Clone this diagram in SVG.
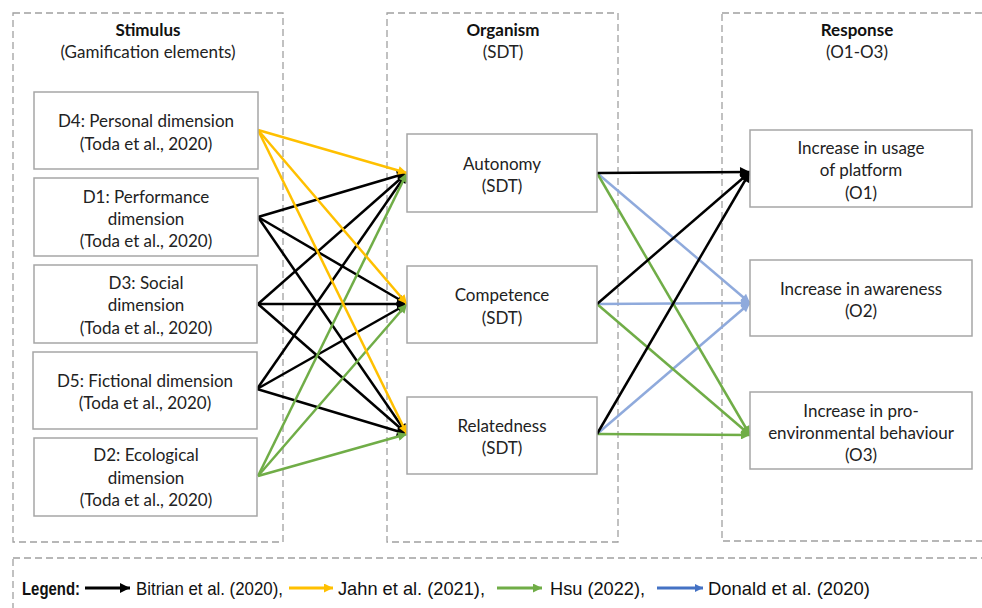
<svg xmlns="http://www.w3.org/2000/svg" width="982" height="608" viewBox="0 0 982 608">
  <style>
    .stage { fill: none; stroke: #a0a0a0; stroke-width: 1.3; stroke-dasharray: 7 4; }
    .box { fill: #ffffff; stroke: #a6a6a6; stroke-width: 1.5; }
    .t { font-family: "Lato", "Open Sans", sans-serif; font-size: 17px; fill: #222222; text-anchor: middle; dominant-baseline: central; }
    .hd { font-weight: bold; fill: #111111; }
    .lg { font-family: "Liberation Sans", Arial, sans-serif; font-size: 19px; fill: #111111; }
    .c { fill: none; stroke-width: 2.5; }
    .k { stroke: #000000; marker-end: url(#ak); }
    .y { stroke: #ffc000; marker-end: url(#ay); }
    .g { stroke: #70ad47; marker-end: url(#ag); }
    .b { stroke: #8faadc; marker-end: url(#ab); }
  </style>
  <defs>
    <marker id="ak" viewBox="0 0 10 10" refX="10" refY="5" markerWidth="12" markerHeight="10" markerUnits="userSpaceOnUse" orient="auto">
      <path d="M0,0 L10,5 L0,10 z" fill="#000000"/>
    </marker>
    <marker id="ay" viewBox="0 0 10 10" refX="10" refY="5" markerWidth="11" markerHeight="9" markerUnits="userSpaceOnUse" orient="auto">
      <path d="M0,0 L10,5 L0,10 z" fill="#ffc000"/>
    </marker>
    <marker id="ag" viewBox="0 0 10 10" refX="10" refY="5" markerWidth="11" markerHeight="9" markerUnits="userSpaceOnUse" orient="auto">
      <path d="M0,0 L10,5 L0,10 z" fill="#70ad47"/>
    </marker>
    <marker id="ab" viewBox="0 0 10 10" refX="10" refY="5" markerWidth="11" markerHeight="9" markerUnits="userSpaceOnUse" orient="auto">
      <path d="M0,0 L10,5 L0,10 z" fill="#8faadc"/>
    </marker>
    <marker id="lb" viewBox="0 0 10 10" refX="10" refY="5" markerWidth="9" markerHeight="8" markerUnits="userSpaceOnUse" orient="auto">
      <path d="M0,0 L10,5 L0,10 z" fill="#4472c4"/>
    </marker>
  </defs>

  <rect width="982" height="608" fill="#ffffff"/>

  <!-- stage frames -->
  <g id="stages">
    <rect class="stage" x="13" y="13" width="270" height="529"/>
    <rect class="stage" x="387" y="13" width="231" height="529"/>
    <rect class="stage" x="722" y="13" width="290" height="528"/>
    <text class="t hd" x="148" y="29">Stimulus</text>
    <text class="t" x="148" y="51">(Gamification elements)</text>
    <text class="t hd" x="503" y="29">Organism</text>
    <text class="t" x="503" y="51">(SDT)</text>
    <text class="t hd" x="857" y="29">Response</text>
    <text class="t" x="857" y="51">(O1-O3)</text>
  </g>

  <!-- connectors -->
  <g id="connectors">
    <!-- stimulus to organism -->
    <line class="c k" x1="258" y1="217" x2="407" y2="173"/>
    <line class="c k" x1="258" y1="217" x2="407" y2="304"/>
    <line class="c k" x1="258" y1="217" x2="407" y2="434"/>
    <line class="c k" x1="258" y1="304" x2="407" y2="173"/>
    <line class="c k" x1="258" y1="304" x2="407" y2="304"/>
    <line class="c k" x1="258" y1="304" x2="407" y2="434"/>
    <line class="c k" x1="257" y1="389" x2="407" y2="173"/>
    <line class="c k" x1="257" y1="389" x2="407" y2="304"/>
    <line class="c k" x1="257" y1="389" x2="407" y2="434"/>
    <line class="c g" x1="258" y1="476" x2="407" y2="173"/>
    <line class="c g" x1="258" y1="476" x2="407" y2="304"/>
    <line class="c g" x1="258" y1="476" x2="407" y2="434"/>
    <line class="c y" x1="258" y1="130" x2="407" y2="173"/>
    <line class="c y" x1="258" y1="130" x2="407" y2="304"/>
    <line class="c y" x1="258" y1="130" x2="407" y2="434"/>
    <!-- organism to response -->
    <line class="c b" x1="597" y1="173" x2="750" y2="303"/>
    <line class="c b" x1="597" y1="304" x2="750" y2="303"/>
    <line class="c b" x1="597" y1="434" x2="750" y2="303"/>
    <line class="c g" x1="597" y1="173" x2="750" y2="435"/>
    <line class="c g" x1="597" y1="304" x2="750" y2="435"/>
    <line class="c g" x1="597" y1="434" x2="750" y2="435"/>
    <line class="c k" x1="597" y1="173" x2="750" y2="172"/>
    <line class="c k" x1="597" y1="304" x2="750" y2="172"/>
    <line class="c k" x1="597" y1="434" x2="750" y2="172"/>
  </g>

  <!-- stimulus nodes -->
  <g id="d4">
    <rect class="box" x="34" y="92" width="224" height="77"/>
    <text class="t" x="146" y="120">D4: Personal dimension</text>
    <text class="t" x="146" y="143">(Toda et al., 2020)</text>
  </g>
  <g id="d1">
    <rect class="box" x="34" y="178" width="224" height="78"/>
    <text class="t" x="146" y="196">D1: Performance</text>
    <text class="t" x="146" y="218">dimension</text>
    <text class="t" x="146" y="240">(Toda et al., 2020)</text>
  </g>
  <g id="d3">
    <rect class="box" x="34" y="265" width="223" height="78"/>
    <text class="t" x="146" y="282">D3: Social</text>
    <text class="t" x="146" y="304">dimension</text>
    <text class="t" x="146" y="327">(Toda et al., 2020)</text>
  </g>
  <g id="d5">
    <rect class="box" x="33" y="352" width="224" height="77"/>
    <text class="t" x="145" y="380">D5: Fictional dimension</text>
    <text class="t" x="145" y="402">(Toda et al., 2020)</text>
  </g>
  <g id="d2">
    <rect class="box" x="34" y="438" width="223" height="78"/>
    <text class="t" x="146" y="454">D2: Ecological</text>
    <text class="t" x="146" y="477">dimension</text>
    <text class="t" x="146" y="499">(Toda et al., 2020)</text>
  </g>

  <!-- organism nodes -->
  <g id="autonomy">
    <rect class="box" x="407" y="134" width="190" height="78"/>
    <text class="t" x="502" y="163">Autonomy</text>
    <text class="t" x="502" y="185">(SDT)</text>
  </g>
  <g id="competence">
    <rect class="box" x="407" y="266" width="190" height="77"/>
    <text class="t" x="502" y="294">Competence</text>
    <text class="t" x="502" y="317">(SDT)</text>
  </g>
  <g id="relatedness">
    <rect class="box" x="407" y="397" width="190" height="77"/>
    <text class="t" x="502" y="425">Relatedness</text>
    <text class="t" x="502" y="447">(SDT)</text>
  </g>

  <!-- response nodes -->
  <g id="o1">
    <rect class="box" x="750" y="130" width="222" height="77"/>
    <text class="t" x="861" y="147">Increase in usage</text>
    <text class="t" x="861" y="169">of platform</text>
    <text class="t" x="861" y="192">(O1)</text>
  </g>
  <g id="o2">
    <rect class="box" x="750" y="260" width="222" height="76"/>
    <text class="t" x="861" y="288">Increase in awareness</text>
    <text class="t" x="861" y="310">(O2)</text>
  </g>
  <g id="o3">
    <rect class="box" x="750" y="392" width="222" height="77"/>
    <text class="t" x="861" y="410">Increase in pro-</text>
    <text class="t" x="861" y="432">environmental behaviour</text>
    <text class="t" x="861" y="454">(O3)</text>
  </g>

  <!-- legend -->
  <g id="legend">
    <rect class="stage" x="13" y="558" width="990" height="70"/>
    <text class="lg" x="22" y="595" font-weight="bold" textLength="58" lengthAdjust="spacingAndGlyphs">Legend:</text>
    <line x1="85" y1="588" x2="130" y2="588" stroke="#000000" stroke-width="3" marker-end="url(#ak)"/>
    <text class="lg" x="136" y="595" textLength="147" lengthAdjust="spacingAndGlyphs">Bitrian et al. (2020),</text>
    <line x1="289" y1="588" x2="333" y2="588" stroke="#ffc000" stroke-width="3" marker-end="url(#ay)"/>
    <text class="lg" x="338" y="595" textLength="147" lengthAdjust="spacingAndGlyphs">Jahn et al. (2021),</text>
    <line x1="497" y1="588" x2="542" y2="588" stroke="#70ad47" stroke-width="3" marker-end="url(#ag)"/>
    <text class="lg" x="550" y="595" textLength="95" lengthAdjust="spacingAndGlyphs">Hsu (2022),</text>
    <line x1="657" y1="588" x2="703" y2="588" stroke="#4472c4" stroke-width="3" marker-end="url(#lb)"/>
    <text class="lg" x="708" y="595" textLength="162" lengthAdjust="spacingAndGlyphs">Donald et al. (2020)</text>
  </g>
</svg>
